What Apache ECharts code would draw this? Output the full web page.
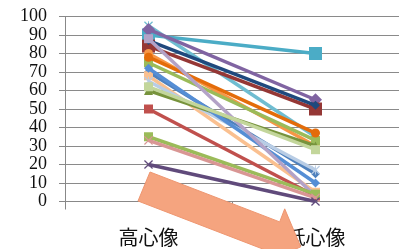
<!DOCTYPE html>
<html>
<head>
<meta charset="utf-8">
<script src="https://cdn.jsdelivr.net/npm/echarts@6/dist/echarts.min.js"></script>
<style>
  html, body { margin: 0; padding: 0; background: #fff; }
  #chart { width: 399px; height: 249px; }
</style>
</head>
<body>
<div id="chart"></div>
<script>
// categories and values (left = 高心像, right = 低心像)
const categories = ['高心像', '低心像'];
const highScores = [90, 95, 93, 84, 87, 80, 75, 78, 70, 68, 65, 60, 72, 88, 50, 35, 33, 20, 62];
const lowScores  = [80, 35, 55, 50, 52, 30, 33, 37, 15, 5, 17, 30, 10, 3, 3, 4, 2, 0, 28];
const yTicks = [0, 10, 20, 30, 40, 50, 60, 70, 80, 90, 100];

const X_PATH = 'path://M0,1L1,0L5,4L9,0L10,1L6,5L10,9L9,10L5,6L1,10L0,9L4,5Z';
const STAR_PATH = 'path://M0,1L1,0L5,4L9,0L10,1L6,5L10,9L9,10L5,6L1,10L0,9L4,5Z M4.5,0L5.5,0L5.5,10L4.5,10Z';

const colors = ['#4BACC6', '#6FBDD1', '#8064A2', '#953735', '#1F497D', '#F79646', '#9BBB59',
  '#E46C0A', '#4F81BD', '#FAC090', '#B9CDE5', '#77933C', '#558ED5', '#B3A2C7', '#C0504D',
  '#9BBB59', '#D99694', '#604A7B', '#C3D69B'];
const symbols = ['rect', STAR_PATH, 'diamond', 'rect', 'diamond', 'circle', 'rect', 'circle',
  'diamond', 'rect', STAR_PATH, 'triangle', 'diamond', 'rect', 'rect', 'rect', X_PATH, X_PATH, 'rect'];
const bigMarks = [0, 2, 3];

const chart = echarts.init(document.getElementById('chart'), null, { renderer: 'canvas' });

const series = highScores.map((h, i) => ({
  type: 'line',
  data: [h, lowScores[i]],
  symbol: symbols[i],
  symbolSize: bigMarks.includes(i) ? 13 : 9,
  lineStyle: { color: colors[i], width: 3.5 },
  itemStyle: { color: colors[i] },
  z: 2 + i
}));

// decorative fat arrow over the plot
function arrowPoints() {
  const a = [150, 172], b = [138, 201];
  const d = [0.933, 0.359], n = [0.359, -0.933];
  const len = 139, head = 29, barb = 14;
  const c = [a[0] + d[0] * len, a[1] + d[1] * len];
  const e = [b[0] + d[0] * len, b[1] + d[1] * len];
  const mid = [(c[0] + e[0]) / 2, (c[1] + e[1]) / 2];
  const tip = [mid[0] + d[0] * head, mid[1] + d[1] * head];
  return [a, c, [c[0] + n[0] * barb, c[1] + n[1] * barb], tip,
    [e[0] - n[0] * barb, e[1] - n[1] * barb], e, b];
}

chart.setOption({
  animation: false,
  backgroundColor: '#fff',
  grid: { left: 65, right: -6, top: 16.5, bottom: 47.5 },
  xAxis: {
    type: 'category',
    data: categories,
    axisLine: { show: true, lineStyle: { color: '#888', width: 1 } },
    axisTick: { show: true, length: 8, lineStyle: { color: '#888' } },
    axisLabel: { color: '#111', fontSize: 20, fontFamily: 'Noto Sans CJK JP', margin: 26 }
  },
  yAxis: {
    type: 'value',
    min: 0, max: 100, interval: 10,
    axisLine: { show: true, lineStyle: { color: '#888', width: 1 } },
    axisTick: { show: true, length: 6, lineStyle: { color: '#888' } },
    splitLine: { lineStyle: { color: '#8a8a8a', width: 1 } },
    axisLabel: {
      color: '#111', fontSize: 18, fontFamily: 'Liberation Serif', margin: 18,
      showMinLabel: true, showMaxLabel: true, hideOverlap: false,
      formatter: v => yTicks.includes(v) ? String(v) : ''
    }
  },
  series: series,
  graphic: [{
    type: 'polygon',
    shape: { points: arrowPoints() },
    style: { fill: '#F5A47F', stroke: '#EE9670', lineWidth: 1 },
    z: 100
  }]
});
</script>
</body>
</html>
